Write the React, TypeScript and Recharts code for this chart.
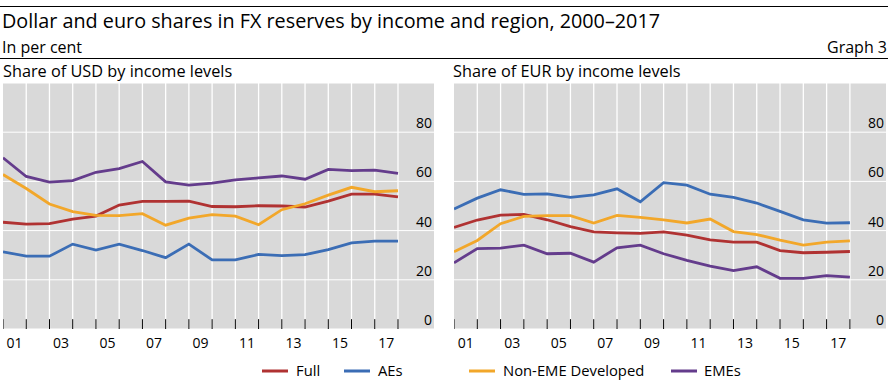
import { LineChart, Line, XAxis, YAxis, CartesianGrid, ReferenceLine } from "recharts";

const FONT = "'Open Sans', 'Noto Sans', sans-serif";

const years = [2000, 2001, 2002, 2003, 2004, 2005, 2006, 2007, 2008, 2009, 2010, 2011, 2012, 2013, 2014, 2015, 2016, 2017];
const labelYears = [2001, 2003, 2005, 2007, 2009, 2011, 2013, 2015, 2017];
const yTicks = [0, 20, 40, 60, 80];

// USD shares
const usdFull = [43.4, 42.6, 42.8, 44.7, 45.9, 50.4, 51.9, 51.9, 52.0, 49.8, 49.7, 50.1, 50.0, 49.6, 52.0, 54.8, 54.8, 53.7];
const usdAEs = [31.4, 29.6, 29.6, 34.5, 32.1, 34.5, 31.9, 29.0, 34.5, 28.1, 28.1, 30.3, 29.8, 30.2, 32.3, 35.0, 35.7, 35.7];
const usdNonEME = [62.8, 57.1, 50.8, 47.7, 46.2, 46.1, 46.9, 42.2, 45.1, 46.5, 45.9, 42.4, 48.5, 50.9, 54.4, 57.6, 55.8, 56.2];
const usdEMEs = [69.6, 62.0, 59.7, 60.3, 63.7, 65.2, 68.1, 59.8, 58.5, 59.3, 60.6, 61.4, 62.2, 60.9, 64.9, 64.4, 64.6, 63.3];

// EUR shares
const eurFull = [41.3, 44.3, 46.3, 46.6, 44.4, 41.6, 39.5, 39.1, 38.9, 39.5, 38.2, 36.2, 35.3, 35.3, 31.9, 31.0, 31.2, 31.5];
const eurAEs = [48.8, 53.2, 56.6, 54.7, 54.9, 53.5, 54.5, 57.0, 51.7, 59.5, 58.5, 54.8, 53.5, 51.2, 47.8, 44.4, 43.0, 43.2];
const eurNonEME = [31.4, 36.0, 42.8, 45.8, 46.1, 46.1, 43.1, 46.2, 45.4, 44.4, 43.1, 44.7, 39.6, 38.4, 36.1, 34.1, 35.3, 35.8];
const eurEMEs = [26.9, 32.7, 32.9, 34.1, 30.6, 30.8, 27.2, 33.0, 34.1, 30.6, 27.9, 25.6, 23.7, 25.3, 20.6, 20.6, 21.7, 21.1];

const series = [
  { key: "full", name: "Full", color: "#b03232" },
  { key: "aes", name: "AEs", color: "#3b6db5" },
  { key: "nonEme", name: "Non-EME Developed", color: "#f2a72a" },
  { key: "emes", name: "EMEs", color: "#643c8c" },
];

const usdData = years.map((year, i) => ({ year, full: usdFull[i], aes: usdAEs[i], nonEme: usdNonEME[i], emes: usdEMEs[i] }));
const eurData = years.map((year, i) => ({ year, full: eurFull[i], aes: eurAEs[i], nonEme: eurNonEME[i], emes: eurEMEs[i] }));

const XTick = ({ x, y, payload }: any) => (
  <text x={x} y={y + 19} textAnchor="middle" fontSize={14} fontFamily={FONT} fill="#000">
    {String(Math.round(payload.value + 0.5)).slice(2)}
  </text>
);

const YTick = ({ x, y, payload }: any) => (
  <text x={x} y={y - 4} textAnchor="end" fontSize={14} fontFamily={FONT} fill="#000">
    {payload.value}
  </text>
);

function Panel({ data, left, width }: { data: any[]; left: number; width: number }) {
  return (
    <div style={{ position: "absolute", left, top: 83 }}>
      <LineChart width={width} height={276} data={data} margin={{ top: 0, right: 0, bottom: 0, left: 0 }}>
        <CartesianGrid fill="#d9d9d9" stroke="#ffffff" strokeWidth={1} vertical={false} />
        <XAxis
          dataKey="year"
          type="number"
          domain={[2000, 2018.55]}
          ticks={labelYears.map((y) => y - 0.5)}
          interval={0}
          height={30}
          axisLine={false}
          tickLine={false}
          tickSize={0}
          tickMargin={0}
          tick={<XTick />}
        />
        <YAxis
          orientation="right"
          mirror
          domain={[0, 100]}
          ticks={yTicks}
          interval={0}
          axisLine={false}
          tickLine={false}
          tickSize={0}
          tickMargin={2}
          tick={<YTick />}
        />
        {years.slice(1).map((y) => (
          <ReferenceLine key={"g" + y} segment={[{ x: y, y: 0 }, { x: y, y: 100 }]} stroke="#ffffff" strokeWidth={1.3} />
        ))}
        {years.map((y) => (
          <ReferenceLine key={"t" + y} segment={[{ x: y, y: 0 }, { x: y, y: 4 }]} stroke="#000" strokeWidth={1} />
        ))}
        {series.map((s) => (
          <Line
            key={s.key}
            type="linear"
            dataKey={s.key}
            name={s.name}
            stroke={s.color}
            strokeWidth={2.8}
            dot={false}
            isAnimationActive={false}
          />
        ))}
      </LineChart>
    </div>
  );
}

const legendPos = [
  { swatch: 262, text: 296 },
  { swatch: 344, text: 378 },
  { swatch: 469, text: 503 },
  { swatch: 671, text: 704 },
];

export default function App() {
  return (
    <div style={{ position: "absolute", left: 0, top: 0, width: 896, height: 381, background: "#fff", fontFamily: FONT }}>
      <svg width={896} height={381} style={{ position: "absolute", left: 0, top: 0 }}>
        <line x1={0} x2={888} y1={6.5} y2={6.5} stroke="#000" strokeWidth={1} />
        <text x={2} y={28} fontSize={19.8} fontFamily={FONT} fill="#000">
          Dollar and euro shares in FX reserves by income and region, 2000–2017
        </text>
        <text x={2} y={53} fontSize={16} fontFamily={FONT} fill="#000">In per cent</text>
        <text x={887} y={53} fontSize={16} fontFamily={FONT} fill="#000" textAnchor="end">Graph 3</text>
        <line x1={0} x2={888} y1={58.5} y2={58.5} stroke="#000" strokeWidth={1} />
        <text x={3} y={77} fontSize={16.3} fontFamily={FONT} fill="#000">Share of USD by income levels</text>
        <text x={453} y={77} fontSize={16.3} fontFamily={FONT} fill="#000">Share of EUR by income levels</text>
        {series.map((s, i) => (
          <g key={s.key}>
            <rect x={legendPos[i].swatch} y={369.5} width={26} height={3} fill={s.color} />
            <text x={legendPos[i].text} y={376} fontSize={14.8} fontFamily={FONT} fill="#000">{s.name}</text>
          </g>
        ))}
      </svg>
      <Panel data={usdData} left={3} width={431} />
      <Panel data={eurData} left={454} width={432} />
    </div>
  );
}
